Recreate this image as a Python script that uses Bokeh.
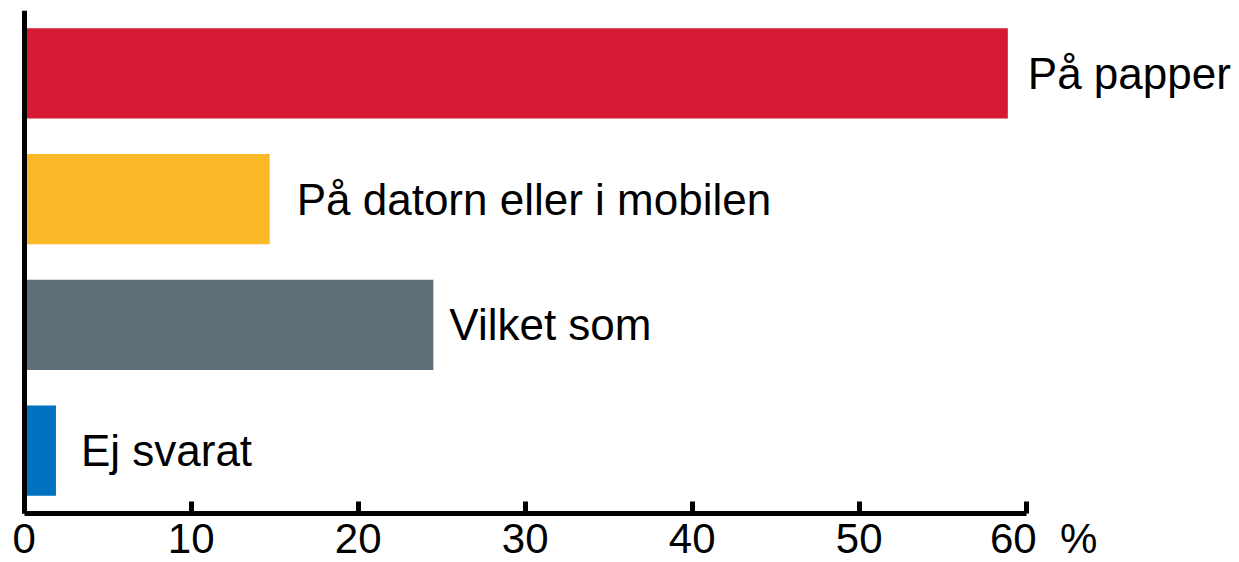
from bokeh.plotting import figure
from bokeh.models import Range1d, ColumnDataSource, FixedTicker
from bokeh.core.properties import value
from bokeh.embed import file_html
from bokeh.resources import INLINE

categories = ["På papper", "På datorn eller i mobilen", "Vilket som", "Ej svarat"]
values = [58.9, 14.7, 24.5, 1.9]
colors = ["#D71A33", "#FBB827", "#5F6E77", "#0071C0"]
label_offsets = [20, 27, 16, 25]
tick_values = [0, 10, 20, 30, 40, 50, 60]
tick_labels = ["0", "10", "20", "30", "40", "50", "\u00a0\u00a0\u00a060 \u00a0%"]

FONT = "Liberation Sans"

n = len(categories)
ypos = [n - 1 - i for i in range(n)]  # first category on top
src = ColumnDataSource(dict(cat=categories, y=ypos, val=values, color=colors, off=label_offsets))

# frame spans the canvas from 10px below its top to its bottom; each category band is 1 unit
frame_h = 562 - 10
band_px = 503.0 / n
y_top = n - 0.5
y_bottom = y_top - frame_h / band_px

px_per_unit = 16.7
x_start = -23.7 / px_per_unit
x_end = x_start + 1239 / px_per_unit

p = figure(width=1239, height=562, output_backend="svg", toolbar_location=None,
           y_range=Range1d(y_bottom, y_top),
           x_range=Range1d(x_start, x_end),
           min_border_left=0, min_border_right=0, min_border_top=10, min_border_bottom=0)
p.outline_line_color = None
p.grid.visible = False
p.background_fill_color = "white"
p.border_fill_color = "white"

p.hbar(y="y", right="val", left=0, height=0.717, color="color", line_color=None, source=src)
p.text(x="val", y="y", text="cat", x_offset="off", source=src,
       text_font=value(FONT), text_font_size="44px", text_color="black",
       text_align="left", text_baseline="middle")

xa = p.xaxis[0]
xa.fixed_location = -0.5
xa.ticker = FixedTicker(ticks=tick_values)
xa.major_label_overrides = {t: s for t, s in zip(tick_values, tick_labels)}
xa.bounds = (0, 60)
xa.axis_line_width = 5
xa.axis_line_color = "black"
xa.major_tick_in = 12
xa.major_tick_out = 0
xa.major_tick_line_width = 5
xa.minor_tick_line_color = None
xa.major_label_text_font = FONT
xa.major_label_text_font_size = "42px"
xa.major_label_text_color = "black"
xa.major_label_standoff = 1

ya = p.yaxis[0]
ya.fixed_location = 0
ya.ticker = FixedTicker(ticks=[])
ya.bounds = (-0.5, y_top)
ya.axis_line_width = 5
ya.axis_line_color = "black"
ya.major_tick_line_color = None
ya.minor_tick_line_color = None
ya.major_label_standoff = 0

open("out.html", "w").write(file_html(p, INLINE))
